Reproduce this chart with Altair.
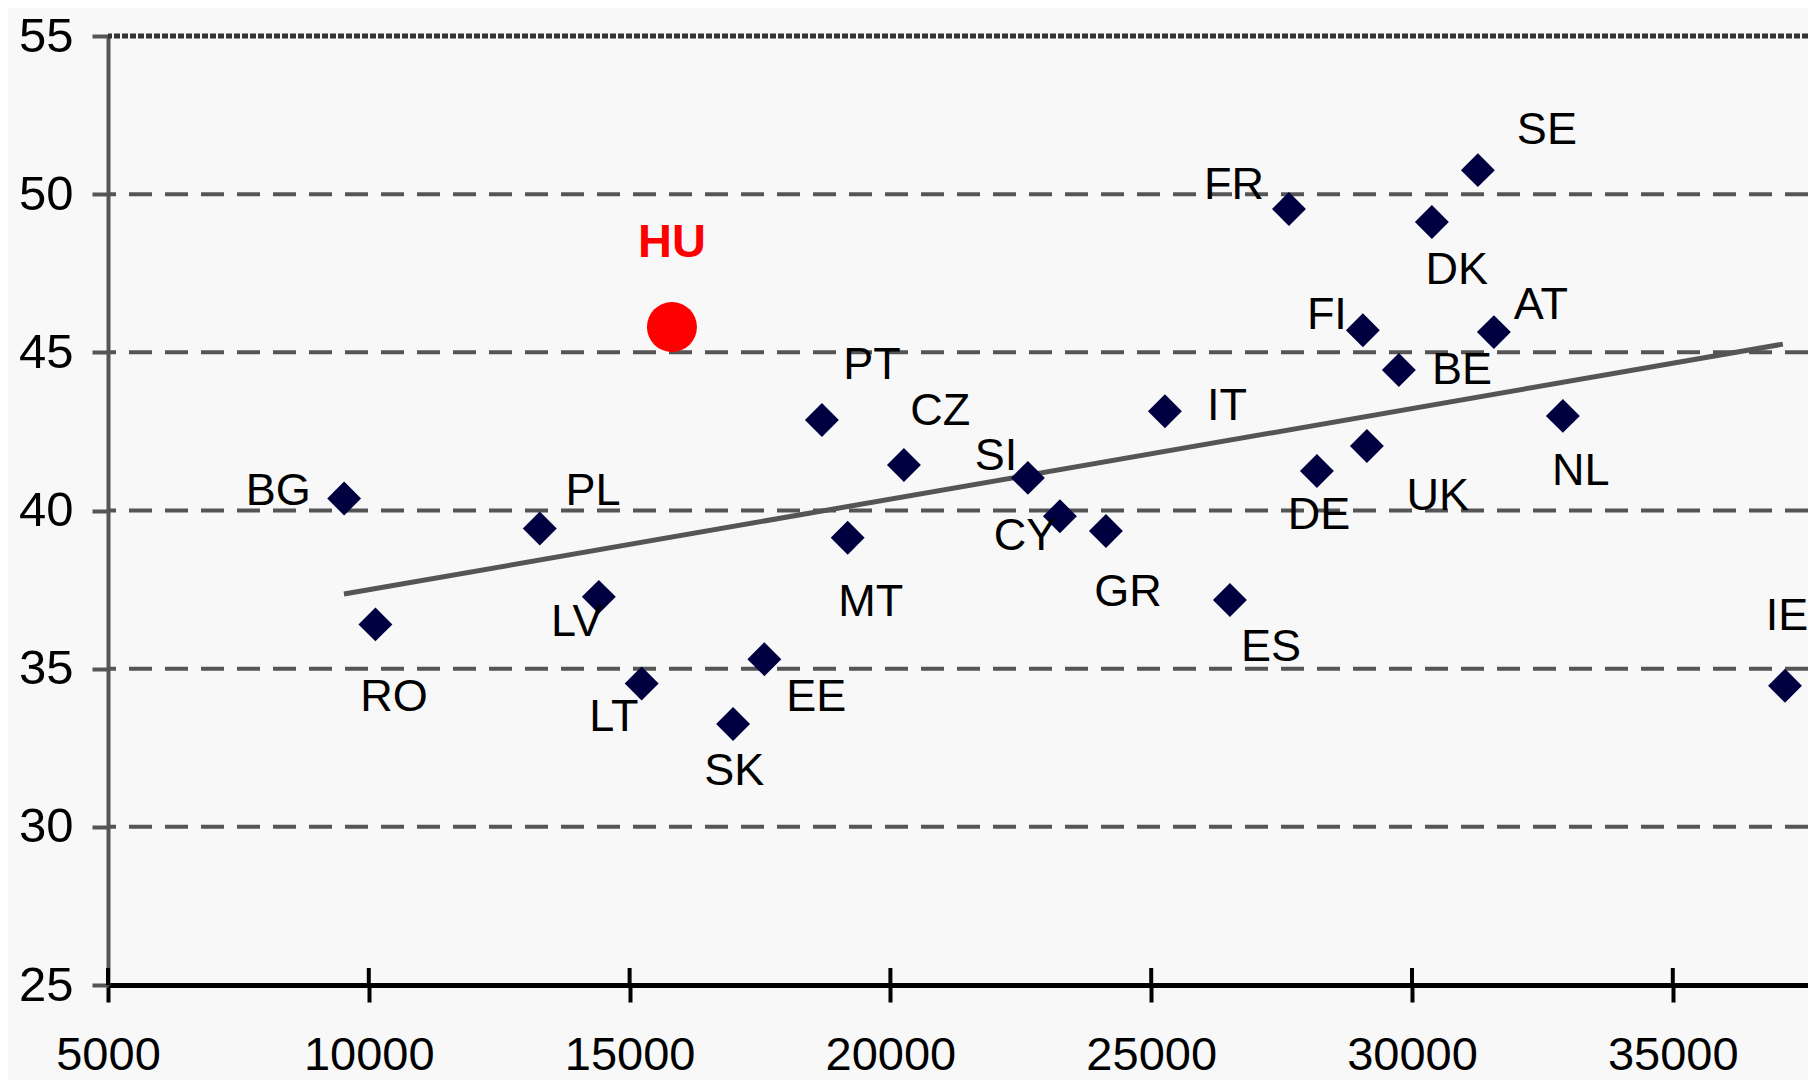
import altair as alt
import pandas as pd

# ---- data ----
countries = ["BG", "RO", "PL", "LV", "LT", "HU", "SK", "EE", "PT", "MT", "CZ", "SI", "CY",
             "GR", "IT", "ES", "FR", "DE", "FI", "UK", "BE", "DK", "SE", "AT", "NL", "IE"]
gdp = [9527, 10127, 13278, 14410, 15231, 15812, 16984, 17583, 18687, 19181, 20259, 22636, 23250,
       24132, 25263, 26509, 27641, 28177, 29058, 29135, 29748, 30381, 31263, 31570, 32892, 37151]
tax = [40.38, 36.40, 39.43, 37.27, 34.53, 45.80, 33.25, 35.30, 42.86, 39.14, 41.44, 41.03, 39.82,
       39.35, 43.14, 37.17, 49.53, 41.25, 45.70, 42.04, 44.44, 49.12, 50.76, 45.64, 42.99, 34.46]
# label anchor positions (data units)
label_gdp = [8262, 10481, 14298, 13987, 14697, 15812, 17005, 18580, 19646, 19623, 20955, 22023, 22579,
             24553, 26452, 27295, 26586, 28215, 28368, 30496, 30957, 30860, 32586, 32471, 33237, 37190]
label_tax = [40.71, 34.20, 40.71, 36.58, 33.58, 48.55, 31.86, 34.20, 44.69, 37.20, 43.23, 41.82, 39.29,
             37.52, 43.40, 35.78, 50.38, 39.95, 46.27, 40.55, 44.54, 47.70, 52.12, 46.59, 41.34, 36.77]
highlight = "HU"

trend_x = [9524, 37110]
trend_y = [37.36, 45.26]

x_ticks = [5000, 10000, 15000, 20000, 25000, 30000, 35000]
y_ticks = [25, 30, 35, 40, 45, 50, 55]
grid_vals = [30, 35, 40, 45, 50]
top_val = [55]

x_domain = [5000, 37592]
y_domain = [25, 55]

W, H = 1700, 949

df = pd.DataFrame({"country": countries, "gdp": gdp, "tax": tax,
                   "lx": label_gdp, "ly": label_tax})
trend = pd.DataFrame({"gdp": trend_x, "tax": trend_y})
grid = pd.DataFrame({"v": grid_vals})
top = pd.DataFrame({"v": top_val})
xt = pd.DataFrame({"t": x_ticks})

FONT = "Liberation Sans"
xs = alt.Scale(domain=x_domain, nice=False, zero=False)
ys = alt.Scale(domain=y_domain, nice=False, zero=False)

xaxis = alt.Axis(values=x_ticks, title=None, grid=False, domainColor="black", domainWidth=5,
                 tickColor="black", tickWidth=4, tickSize=17, labelPadding=30,
                 labelFontSize=47, labelFont=FONT, labelColor="black", labelFlush=False,
                 labelOverlap=False, format="d")
yaxis = alt.Axis(values=y_ticks, title=None, grid=False, domainColor="#555555", domainWidth=4,
                 tickColor="#555555", tickWidth=4, tickSize=16, labelPadding=19,
                 labelFontSize=49, labelFont=FONT, labelColor="black", labelOverlap=False,
                 format="d")

def X(f):
    return alt.X(f, type="quantitative", scale=xs, axis=xaxis)

def Y(f):
    return alt.Y(f, type="quantitative", scale=ys, axis=yaxis)

grid_layer = alt.Chart(grid).mark_rule(color="#555555", strokeWidth=4, strokeDash=[23, 13]).encode(
    y=Y("v"))
top_layer = alt.Chart(top).mark_rule(color="#333333", strokeWidth=5, strokeDash=[6, 2]).encode(
    y=Y("v"))
inner_ticks = alt.Chart(xt).mark_rule(color="black", strokeWidth=4).encode(
    x=X("t"), y=alt.value(H - 17), y2=alt.value(H))
trend_layer = alt.Chart(trend).mark_line(color="#555555", strokeWidth=5).encode(
    x=X("gdp"), y=Y("tax"))
pts = alt.Chart(df).transform_filter(alt.datum.country != highlight).mark_point(
    shape="diamond", filled=True, size=1150, color="#000040", opacity=1).encode(
    x=X("gdp"), y=Y("tax"))
hu_pt = alt.Chart(df).transform_filter(alt.datum.country == highlight).mark_point(
    shape="circle", filled=True, size=2500, color="#ff0000", opacity=1).encode(
    x=X("gdp"), y=Y("tax"))
labels = alt.Chart(df).transform_filter(alt.datum.country != highlight).mark_text(
    font=FONT, fontSize=45, color="black", align="center", baseline="middle", dy=3).encode(
    x=X("lx"), y=Y("ly"), text="country:N")
hu_label = alt.Chart(df).transform_filter(alt.datum.country == highlight).mark_text(
    font=FONT, fontSize=47, fontWeight="bold", color="#ff0000", align="center",
    baseline="middle", dy=3).encode(
    x=X("lx"), y=Y("ly"), text="country:N")

chart = alt.layer(grid_layer, top_layer, trend_layer, inner_ticks, pts, hu_pt, labels, hu_label).properties(
    width=W, height=H,
    autosize=alt.AutoSizeParams(type="none"),
    padding={"left": 100, "top": 28, "right": 0, "bottom": 95},
    background="#f8f8f8",
).configure_view(stroke=None)

chart.save("out.html", embed_options={"renderer": "svg", "actions": False})
